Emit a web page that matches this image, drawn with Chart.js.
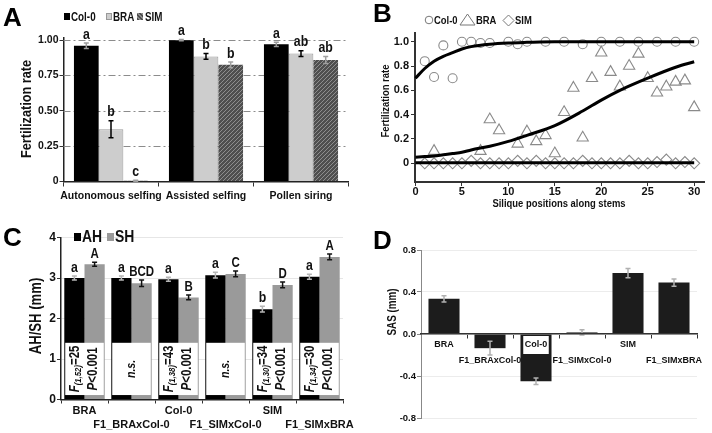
<!DOCTYPE html>
<html>
<head>
<meta charset="utf-8">
<script src="https://cdn.jsdelivr.net/npm/chart.js@4.4.1/dist/chart.umd.min.js"></script>
<style>
  html, body { margin: 0; padding: 0; background: #fff; }
  #fig { position: relative; width: 712px; height: 433px; overflow: hidden;
         font-family: 'Liberation Sans', Arial, sans-serif; font-weight: bold; color: #111; }
  .panel { position: absolute; }
  .panel canvas { display: block; }
  .lt { position: absolute; font-size: 26px; line-height: 26px; color: #000; }
  .yt { position: absolute; white-space: nowrap; transform: translate(-50%, -50%) rotate(-90deg) scaleX(0.82); }
  .xt { position: absolute; white-space: nowrap; transform: translate(-50%, -50%) scaleX(0.82); }
  .tx { position: absolute; white-space: nowrap; transform: translateY(-50%) scaleX(0.82); transform-origin: left center; }
  .sq { position: absolute; box-sizing: border-box; }
  .sym { position: absolute; }
</style>
</head>
<body>
<div id="fig">
  <div class="panel" style="left:0;top:0;width:360px;height:215px"><canvas id="chA" width="360" height="215"></canvas></div>
  <div class="panel" style="left:360px;top:0;width:352px;height:215px"><canvas id="chB" width="352" height="215"></canvas></div>
  <div class="panel" style="left:0;top:215px;width:360px;height:218px"><canvas id="chC" width="360" height="218"></canvas></div>
  <div class="panel" style="left:360px;top:215px;width:352px;height:218px"><canvas id="chD" width="352" height="218"></canvas></div>

  <div class="lt" style="left:3px;top:4px">A</div>
  <div class="lt" style="left:373px;top:0px">B</div>
  <div class="lt" style="left:3px;top:224px">C</div>
  <div class="lt" style="left:373px;top:227px">D</div>

  <!-- legend A -->
  <div class="sq" style="left:64px;top:13px;width:6px;height:7px;background:#000"></div>
  <div class="tx" style="left:71px;top:16.5px;font-size:12px">Col-0</div>
  <div class="sq" style="left:106px;top:13px;width:6px;height:7px;background:#cdcdcd;border:1px solid #999"></div>
  <div class="tx" style="left:113px;top:16.5px;font-size:12px">BRA</div>
  <div class="sq" style="left:137px;top:13px;width:6px;height:7px;background:repeating-linear-gradient(45deg,#4d4d4d 0 1.5px,#8c8c8c 1.5px 3px)"></div>
  <div class="tx" style="left:145px;top:16.5px;font-size:12px">SIM</div>

  <!-- legend B -->
  <svg class="sym" style="left:424px;top:15px" width="10" height="10"><circle cx="5" cy="5" r="3.8" fill="none" stroke="#777" stroke-width="1"/></svg>
  <div class="tx" style="left:434px;top:20px;font-size:11.5px">Col-0</div>
  <svg class="sym" style="left:459px;top:13px" width="17" height="13"><polygon points="8.5,1 16,12 1,12" fill="none" stroke="#777" stroke-width="1"/></svg>
  <div class="tx" style="left:476px;top:20px;font-size:11.5px">BRA</div>
  <svg class="sym" style="left:502px;top:14px" width="13" height="13"><polygon points="6.5,1 12,6.5 6.5,12 1,6.5" fill="none" stroke="#777" stroke-width="1"/></svg>
  <div class="tx" style="left:515px;top:20px;font-size:11.5px">SIM</div>

  <!-- legend C -->
  <div class="sq" style="left:74px;top:233px;width:7px;height:8px;background:#000"></div>
  <div class="tx" style="left:82px;top:237px;font-size:17px">AH</div>
  <div class="sq" style="left:107px;top:233px;width:7px;height:8px;background:#9a9a9a"></div>
  <div class="tx" style="left:115px;top:237px;font-size:17px">SH</div>

  <!-- axis titles -->
  <div class="yt" style="left:26px;top:109px;font-size:15.5px">Fertilization rate</div>
  <div class="yt" style="left:385px;top:101px;font-size:11.5px">Fertilization rate</div>
  <div class="xt" style="left:559px;top:203px;font-size:11.5px">Silique positions along stems</div>
  <div class="yt" style="left:36px;top:316px;font-size:16px">AH/SH (mm)</div>
  <div class="yt" style="left:392px;top:312px;font-size:12px">SAS (mm)</div>
</div>

<script>
/* ── Panel A: fertilization rate by pollination treatment ── */
var aCats   = ["Autonomous selfing", "Assisted selfing", "Pollen siring"];
var aCol0   = [0.96, 1.00, 0.97];
var aCol0E  = [0.02, 0.004, 0.015];
var aBra    = [0.37, 0.885, 0.905];
var aBraE   = [0.06, 0.02, 0.02];
var aSim    = [0.005, 0.825, 0.86];
var aSimE   = [0.003, 0.02, 0.025];
var aCol0L  = ["a", "a", "a"];
var aBraL   = ["b", "b", "ab"];
var aSimL   = ["c", "b", "ab"];
var aYTicks = [0, 0.25, 0.5, 0.75, 1.0];
var aYLbls  = ["0", "0.25", "0.50", "0.75", "1.00"];

/* ── Panel B: fertilization along the stem ── */
var bCol0X  = [1, 2, 3, 4, 5, 6, 7, 8, 10, 11, 12, 14, 16, 18, 20, 22, 24, 26, 28, 30];
var bCol0Y  = [0.84, 0.71, 0.97, 0.70, 1.00, 1.00, 0.99, 0.99, 1.00, 0.98, 1.00, 1.00, 1.00, 0.98, 1.00, 1.00, 1.00, 1.00, 1.00, 1.00];
var bBraX   = [2, 7, 8, 9, 11, 12, 13, 14, 15, 16, 17, 18, 19, 20, 21, 22, 23, 24, 25, 26, 27, 28, 29, 30];
var bBraY   = [0.10, 0.10, 0.36, 0.27, 0.16, 0.26, 0.18, 0.23, 0.08, 0.42, 0.62, 0.21, 0.70, 0.91, 0.75, 0.63, 0.80, 0.90, 0.70, 0.58, 0.63, 0.67, 0.68, 0.46];
var bSimX   = [1, 2, 3, 4, 5, 6, 7, 8, 9, 10, 11, 12, 13, 14, 15, 16, 17, 18, 19, 20, 21, 22, 23, 24, 25, 26, 27, 28, 29, 30];
var bSimY   = [0, 0, 0, 0, 0, 0.02, 0, 0, 0, 0, 0.02, 0, 0.02, 0, 0, 0, 0, 0.02, 0, 0, 0, 0, 0.02, 0, 0, 0.01, 0.03, 0, 0.01, 0];
var bFitX   = [0, 1, 2, 3, 4, 5, 6, 8, 10, 12, 15, 18, 20, 22, 25, 28, 30];
var bCol0F  = [0.70, 0.78, 0.84, 0.88, 0.91, 0.94, 0.96, 0.98, 0.99, 0.995, 1.0, 1.0, 1.0, 1.0, 1.0, 1.0, 1.0];
var bBraF   = [0.05, 0.055, 0.06, 0.07, 0.08, 0.09, 0.11, 0.14, 0.18, 0.23, 0.31, 0.43, 0.52, 0.60, 0.70, 0.79, 0.835];
var bSimF   = [0.005, 0.005, 0.005, 0.005, 0.005, 0.005, 0.005, 0.005, 0.005, 0.005, 0.005, 0.005, 0.005, 0.005, 0.005, 0.005, 0.005];
var bXTicks = [0, 5, 10, 15, 20, 25, 30];
var bYTicks = [0, 0.2, 0.4, 0.6, 0.8, 1.0];
var bYLbls  = ["0", "0.2", "0.4", "0.6", "0.8", "1.0"];

/* ── Panel C: anther / stigma height ── */
var cCats   = ["BRA", "F1_BRAxCol-0", "Col-0", "F1_SIMxCol-0", "SIM", "F1_SIMxBRA"];
var cAH     = [3.00, 3.00, 2.97, 3.07, 2.23, 3.03];
var cAHE    = [0.05, 0.05, 0.05, 0.07, 0.07, 0.06];
var cSH     = [3.34, 2.87, 2.52, 3.10, 2.83, 3.52];
var cSHE    = [0.05, 0.08, 0.06, 0.07, 0.07, 0.07];
var cAHL    = ["a", "a", "a", "a", "b", "a"];
var cSHL    = ["A", "BCD", "B", "C", "D", "A"];
var cDf     = ["(1,52)", "", "(1,38)", "", "(1,30)", "(1,34)"];
var cF      = ["25", "", "43", "", "34", "30"];
var cP      = ["<0.001", "", "<0.001", "", "<0.001", "<0.001"];
var cYTicks = [0, 1, 2, 3, 4];

/* ── Panel D: stigma-anther separation ── */
var dCats   = ["BRA", "F1_BRAxCol-0", "Col-0", "F1_SIMxCol-0", "SIM", "F1_SIMxBRA"];
var dSAS    = [0.335, -0.135, -0.45, 0.015, 0.58, 0.49];
var dSASE   = [0.03, 0.065, 0.03, 0.025, 0.045, 0.035];
var dYTicks = [-0.8, -0.4, 0, 0.4, 0.8];
var dYLbls  = ["-0.8", "-0.4", "0.0", "0.4", "0.8"];

var SANS = "'Liberation Sans', Arial, sans-serif";
var SQUEEZE = 0.82;   // the figure uses a narrow face; own text is compressed to match
Chart.defaults.font.family = SANS;
Chart.defaults.font.weight = "bold";
Chart.defaults.color = "#111";
Chart.defaults.animation = false;
Chart.defaults.plugins.legend.display = false;
Chart.defaults.plugins.tooltip.enabled = false;

function fixTicks(list) {
  return function(scale) { scale.ticks = list.map(function(v) { return { value: v }; }); };
}
function fixWidth(w) { return function(s) { s.width = w; }; }
function fixHeight(h) { return function(s) { s.height = h; }; }
function twoRows(cats) {
  return cats.map(function(c, i) { return i % 2 ? ["", c] : [c]; });
}
function narrowText(ctx, t, x, y) {
  ctx.fillText(t, x, y, ctx.measureText(t).width * SQUEEZE);
}

function hatch() {
  var c = document.createElement("canvas");
  c.width = 4; c.height = 4;
  var g = c.getContext("2d");
  g.fillStyle = "#4f4f4f"; g.fillRect(0, 0, 4, 4);
  g.strokeStyle = "#8e8e8e"; g.lineWidth = 1;
  g.beginPath();
  g.moveTo(0, 4); g.lineTo(4, 0);
  g.moveTo(-1, 1); g.lineTo(1, -1);
  g.moveTo(3, 5); g.lineTo(5, 3);
  g.stroke();
  return g.createPattern(c, "repeat");
}

/* error bars + significance letters, read from dataset.errors / dataset.sig */
var errorBars = {
  id: "errorBars",
  afterDatasetsDraw: function(chart) {
    var ctx = chart.ctx, y = chart.scales.y;
    chart.data.datasets.forEach(function(ds, i) {
      if (!ds.errors) return;
      chart.getDatasetMeta(i).data.forEach(function(bar, j) {
        var v = ds.data[j], e = ds.errors[j];
        var yHi = y.getPixelForValue(v + e), yLo = y.getPixelForValue(v - e);
        ctx.save();
        ctx.strokeStyle = ds.errColor;
        ctx.lineWidth = 1.5;
        ctx.beginPath();
        ctx.moveTo(bar.x, yHi); ctx.lineTo(bar.x, yLo);
        ctx.moveTo(bar.x - 2.5, yHi); ctx.lineTo(bar.x + 2.5, yHi);
        ctx.moveTo(bar.x - 2.5, yLo); ctx.lineTo(bar.x + 2.5, yLo);
        ctx.stroke();
        if (ds.sig) {
          ctx.fillStyle = "#111";
          ctx.font = "bold " + ds.sigSize + "px " + SANS;
          ctx.textAlign = "center";
          ctx.textBaseline = "bottom";
          narrowText(ctx, ds.sig[j], bar.x, Math.min(yHi, bar.y) - 1);
        }
        ctx.restore();
      });
    });
  }
};

/* dash-dot reference lines of panel A */
var dashGrid = {
  id: "dashGrid",
  beforeDatasetsDraw: function(chart) {
    var y = chart.scales.y, a = chart.chartArea, ctx = chart.ctx;
    ctx.save();
    ctx.strokeStyle = "#8c8c8c";
    ctx.lineWidth = 1;
    ctx.setLineDash([7, 3, 2, 3]);
    y.ticks.forEach(function(t) {
      if (t.value <= 0) return;
      var py = Math.round(y.getPixelForValue(t.value)) + 0.5;
      ctx.beginPath(); ctx.moveTo(a.left, py); ctx.lineTo(a.right, py); ctx.stroke();
    });
    ctx.restore();
  }
};

/* white statistics boxes of panel C */
function runLine(ctx, runs, y) {
  var w = 0;
  runs.forEach(function(r) { ctx.font = r.f + SANS; r.w = ctx.measureText(r.t).width * SQUEEZE; w += r.w; });
  var px = -w / 2;
  runs.forEach(function(r) {
    ctx.font = r.f + SANS;
    ctx.fillText(r.t, px, y + (r.dy || 0), r.w);
    px += r.w;
  });
}
var statBoxes = {
  id: "statBoxes",
  afterDatasetsDraw: function(chart) {
    var x = chart.scales.x, y = chart.scales.y, ctx = chart.ctx;
    var half = x.width / cCats.length * 0.41;
    var top = y.getPixelForValue(1.40), bot = y.getPixelForValue(0.11);
    cCats.forEach(function(c, i) {
      var cx = x.getPixelForValue(i);
      ctx.save();
      ctx.fillStyle = "#fff";
      ctx.fillRect(cx - half, top, 2 * half, bot - top);
      ctx.translate(cx, (top + bot) / 2);
      ctx.rotate(-Math.PI / 2);
      ctx.fillStyle = "#111";
      ctx.textBaseline = "middle";
      if (!cDf[i]) {
        ctx.font = "italic bold 13px " + SANS;
        ctx.textAlign = "center";
        narrowText(ctx, "n.s.", 0, 0);
      } else {
        ctx.textAlign = "left";
        runLine(ctx, [
          { t: "F", f: "italic bold 14px " },
          { t: cDf[i], f: "italic bold 9.5px ", dy: 3 },
          { t: "=" + cF[i], f: "bold 14px " }
        ], -9);
        runLine(ctx, [{ t: "P", f: "italic bold 14px " }, { t: cP[i], f: "bold 14px " }], 9);
      }
      ctx.restore();
    });
  }
};

/* Panel A */
new Chart(document.getElementById("chA"), {
  type: "bar",
  data: {
    labels: aCats,
    datasets: [
      { label: "Col-0", data: aCol0, backgroundColor: "#000", errors: aCol0E, errColor: "#9a9a9a", sig: aCol0L, sigSize: 15 },
      { label: "BRA", data: aBra, backgroundColor: "#cdcdcd", borderColor: "#9a9a9a", borderWidth: 1, borderSkipped: "bottom",
        errors: aBraE, errColor: "#000", sig: aBraL, sigSize: 15 },
      { label: "SIM", data: aSim, backgroundColor: hatch(), errors: aSimE, errColor: "#a0a0a0", sig: aSimL, sigSize: 15 }
    ]
  },
  options: {
    responsive: false,
    layout: { padding: { top: 37.3, right: 11.5, left: 0, bottom: 0 } },
    datasets: { bar: { categoryPercentage: 0.78, barPercentage: 1 } },
    scales: {
      x: {
        grid: { drawOnChartArea: false, tickLength: 5, tickColor: "#333" },
        border: { color: "#222", width: 1.5 },
        ticks: { padding: 3, maxRotation: 0, minRotation: 0, autoSkip: false, font: { size: 10.5 } },
        afterFit: fixHeight(33.5)
      },
      y: {
        min: 0, max: 1.02,
        afterBuildTicks: fixTicks(aYTicks),
        grid: { drawOnChartArea: false, tickLength: 4, tickColor: "#333" },
        border: { color: "#222", width: 1.5 },
        ticks: { padding: 1, font: { size: 10.5 }, callback: function(v) { return aYLbls[aYTicks.indexOf(v)]; } },
        afterFit: fixWidth(63.5)
      }
    }
  },
  plugins: [dashGrid, errorBars]
});

/* Panel B */
function pts(xs, ys) { return xs.map(function(x, i) { return { x: x, y: ys[i] }; }); }
var fitStyle = { type: "line", borderColor: "#000", borderWidth: 3, pointRadius: 0, cubicInterpolationMode: "monotone", fill: false };
var markStyle = { borderColor: "#8a8a8a", backgroundColor: "rgba(0,0,0,0)", borderWidth: 1.1 };
new Chart(document.getElementById("chB"), {
  type: "scatter",
  data: {
    datasets: [
      Object.assign({ data: pts(bFitX, bCol0F) }, fitStyle),
      Object.assign({ data: pts(bFitX, bBraF) }, fitStyle),
      Object.assign({ data: pts(bFitX, bSimF) }, fitStyle),
      Object.assign({ label: "Col-0", data: pts(bCol0X, bCol0Y), pointStyle: "circle", pointRadius: 4.5 }, markStyle),
      Object.assign({ label: "BRA", data: pts(bBraX, bBraY), pointStyle: "triangle", pointRadius: 6.5 }, markStyle),
      Object.assign({ label: "SIM", data: pts(bSimX, bSimY), pointStyle: "rectRot", pointRadius: 5.5 }, markStyle)
    ]
  },
  options: {
    responsive: false,
    clip: false,
    layout: { padding: { top: 33, right: 5, left: 0, bottom: 0 } },
    scales: {
      x: {
        type: "linear", min: -0.05, max: 31.1,
        afterBuildTicks: fixTicks(bXTicks),
        grid: { drawOnChartArea: false, tickLength: 4, tickColor: "#333" },
        border: { color: "#333", width: 2 },
        ticks: { padding: 0, font: { size: 11, lineHeight: 1 } },
        afterFit: fixHeight(33)
      },
      y: {
        min: -0.154, max: 1.072,
        afterBuildTicks: fixTicks(bYTicks),
        grid: { drawOnChartArea: false, tickLength: 4, tickColor: "#333" },
        border: { color: "#333", width: 2 },
        ticks: { padding: 2, font: { size: 11 }, callback: function(v) { return bYLbls[bYTicks.indexOf(v)]; } },
        afterFit: fixWidth(55)
      }
    }
  }
});

/* Panel C */
new Chart(document.getElementById("chC"), {
  type: "bar",
  data: {
    labels: twoRows(cCats),
    datasets: [
      { label: "AH", data: cAH, backgroundColor: "#000", errors: cAHE, errColor: "#b5b5b5", sig: cAHL, sigSize: 15 },
      { label: "SH", data: cSH, backgroundColor: "#9a9a9a", errors: cSHE, errColor: "#111", sig: cSHL, sigSize: 14 }
    ]
  },
  options: {
    responsive: false,
    layout: { padding: { top: 22.5, right: 17, left: 0, bottom: 0 } },
    datasets: { bar: { categoryPercentage: 0.86, barPercentage: 1 } },
    scales: {
      x: {
        grid: { drawOnChartArea: false, tickLength: 4, tickColor: "#333" },
        border: { color: "#222", width: 1.5 },
        ticks: { padding: 0, maxRotation: 0, autoSkip: false, font: { size: 11, lineHeight: "14px" } },
        afterFit: fixHeight(33.5)
      },
      y: {
        min: 0, max: 4,
        afterBuildTicks: fixTicks(cYTicks),
        grid: { color: "#e6e6e6", tickLength: 4, tickColor: "#333" },
        border: { color: "#222", width: 1.5 },
        ticks: { padding: 1, font: { size: 12 } },
        afterFit: fixWidth(61)
      }
    }
  },
  plugins: [statBoxes, errorBars]
});

/* Panel D */
new Chart(document.getElementById("chD"), {
  type: "bar",
  data: {
    labels: twoRows(dCats),
    datasets: [
      { label: "SAS", data: dSAS, backgroundColor: "#1c1c1c", errors: dSASE, errColor: "#b0b0b0" }
    ]
  },
  options: {
    responsive: false,
    layout: { padding: { top: 35, right: 15, left: 0, bottom: 15 } },
    datasets: { bar: { categoryPercentage: 0.675, barPercentage: 1 } },
    scales: {
      x: {
        position: { y: 0 },
        grid: { drawOnChartArea: false, tickLength: 4, tickColor: "#333" },
        border: { color: "#333", width: 1.5, z: 1 },
        ticks: {
          z: 1, padding: -1, maxRotation: 0, autoSkip: false, font: { size: 9, lineHeight: "16px" },
          showLabelBackdrop: function(c) { return c.index === 2; },
          backdropColor: "#fff", backdropPadding: { left: 1.5, right: 1.5, top: 1, bottom: 1 }
        }
      },
      y: {
        min: -0.8, max: 0.8,
        afterBuildTicks: fixTicks(dYTicks),
        grid: { color: "#ececec", tickLength: 4, tickColor: "#888" },
        border: { color: "#888", width: 1 },
        ticks: { padding: 1, font: { size: 9.5 }, callback: function(v) { return dYLbls[dYTicks.indexOf(v)]; } },
        afterFit: fixWidth(61)
      }
    }
  },
  plugins: [errorBars]
});
</script>
</body>
</html>
